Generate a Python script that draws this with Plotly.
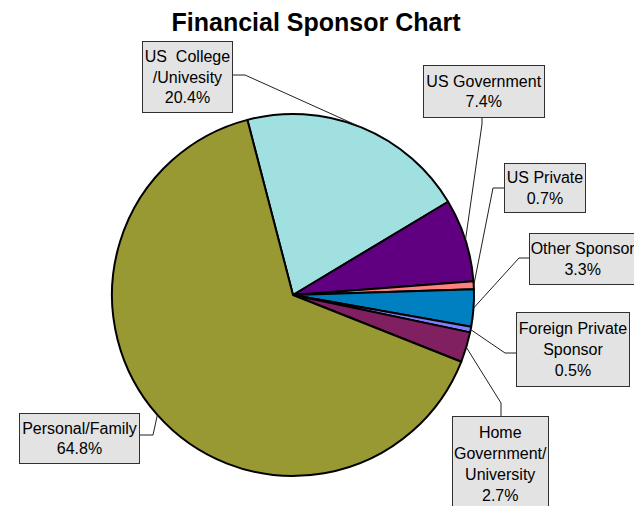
import math
import plotly.graph_objects as go

# ---- data ----
categories = ["US College /Univesity", "US Government", "US Private", "Other Sponsor",
              "Foreign Private Sponsor", "Home Government/ University", "Personal/Family"]
box_texts = ["US  College<br>/Univesity<br>20.4%", "US Government<br>7.4%", "US Private<br>0.7%",
             "Other Sponsor<br>3.3%", "Foreign Private<br>Sponsor<br>0.5%",
             "Home<br>Government/<br>University<br>2.7%", "Personal/Family<br>64.8%"]
values = [20.4, 7.4, 0.7, 3.3, 0.5, 2.7, 64.8]
colors = ["#A0E0E0", "#600080", "#FF8080", "#0080C0", "#8080FF", "#802060", "#999933"]

W, H = 642, 506
OFF = 8  # page body margin offset
CX, CY, R = 293, 295, 181
ROTATION = -14.6

# label boxes (pixel in window: left, top, width, height) and leader routing (box anchor, bend)
boxes = [
    (142, 41, 91, 72), (423, 65, 122, 53), (504, 163, 82, 50), (529, 233, 108, 52),
    (516, 312, 114, 75), (452, 416, 97, 96), (19, 413, 121, 51),
]
anchors = [
    ((233, 75), (245, 75)), ((482, 118), (482, 124)), ((504, 188), (493, 188)),
    ((529, 258), (519, 258)), ((516, 353), (505, 353)), ((501, 416), (501, 403)),
    ((140, 435), (153, 435)),
]


def px(x):
    return (x - OFF) / W


def py(y):
    return 1 - (y - OFF) / H


fig = go.Figure(go.Pie(
    labels=categories, values=values, sort=False, direction="clockwise",
    rotation=ROTATION, textinfo="none", hoverinfo="label+percent",
    marker=dict(colors=colors, line=dict(color="black", width=2)),
    domain=dict(x=[px(CX - R), px(CX + R)], y=[py(CY + R), py(CY - R)]),
    showlegend=False,
))

total = sum(values)
shapes = []
annotations = []
cum = 0.0
for i, v in enumerate(values):
    mid = math.radians(ROTATION + 360 * (cum + v / 2) / total)
    cum += v
    ex = CX + R * math.sin(mid)
    ey = CY - R * math.cos(mid)
    (ax, ay), (bx, by) = anchors[i]
    for (x0, y0, x1, y1) in [(ax, ay, bx, by), (bx, by, ex, ey)]:
        shapes.append(dict(type="line", xref="paper", yref="paper",
                           x0=px(x0), y0=py(y0), x1=px(x1), y1=py(y1),
                           line=dict(color="#202020", width=1)))
    l, t, w, h = boxes[i]
    annotations.append(dict(
        text=box_texts[i], xref="paper", yref="paper",
        x=px(l + w / 2), y=py(t + h / 2), xanchor="center", yanchor="middle",
        showarrow=False, align="center", width=w - 4, height=h - 4,
        bgcolor="#E3E3E3", bordercolor="#303030", borderwidth=1, borderpad=1,
        font=dict(family="Liberation Sans, Arial, sans-serif", size=16, color="black"),
    ))

fig.update_layout(
    width=W, height=H, margin=dict(l=0, r=0, t=0, b=0),
    paper_bgcolor="white", plot_bgcolor="white",
    title=dict(text="<b>Financial Sponsor Chart</b>", x=px(316), xanchor="center",
               xref="paper", yref="container", y=py(22), yanchor="middle",
               font=dict(family="Liberation Sans, Arial, sans-serif", size=25, color="black")),
    shapes=shapes, annotations=annotations,
)

fig.write_html("out.html")
